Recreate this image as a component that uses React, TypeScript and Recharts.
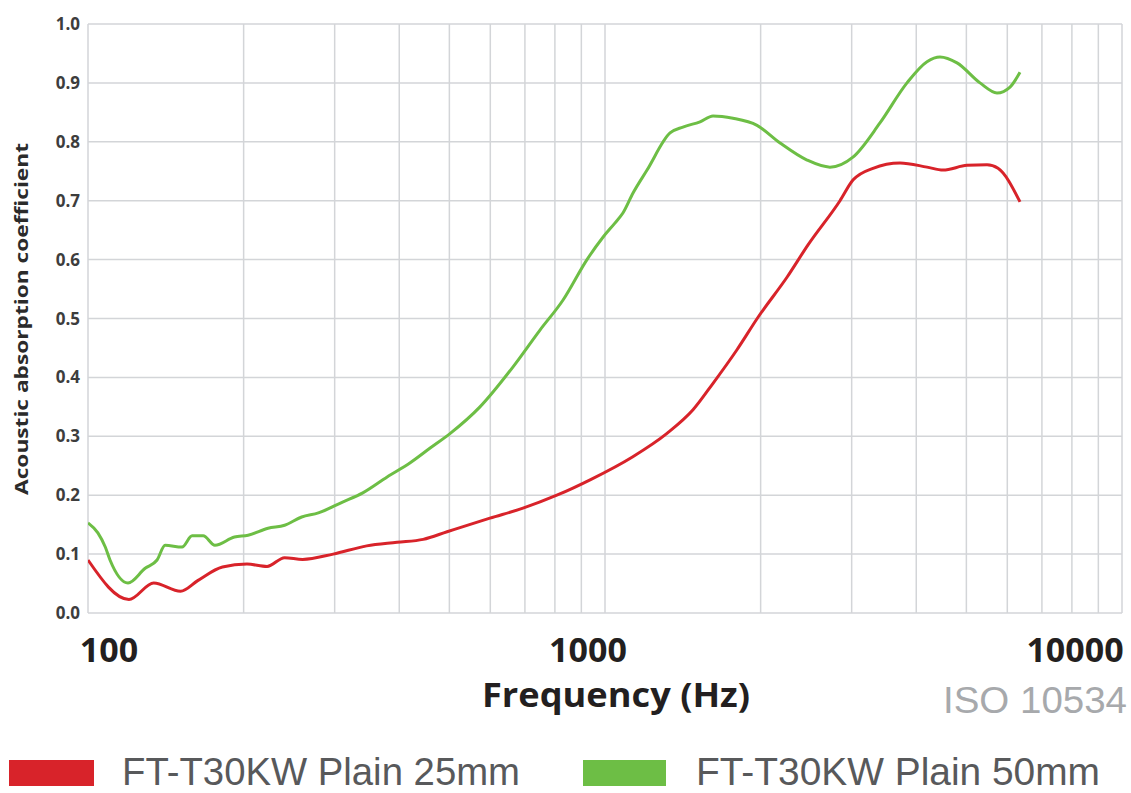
import React from 'react'
import { LineChart, Line, XAxis, YAxis, CartesianGrid } from 'recharts'

// frequency (Hz) / absorption coefficient
const redFreq = [100, 120, 134, 151, 163, 182, 203, 222, 240, 260, 298, 346, 396, 445, 495, 599, 694, 807, 940, 1130, 1318, 1480, 1618, 1800, 1980, 2249, 2470, 2848, 3017, 3299, 3721, 4196, 4507, 5015, 5482, 5757, 6349]
const redAlpha = [0.09, 0.023, 0.051, 0.037, 0.055, 0.078, 0.083, 0.079, 0.094, 0.091, 0.1, 0.114, 0.12, 0.125, 0.138, 0.161, 0.178, 0.2, 0.227, 0.265, 0.305, 0.345, 0.39, 0.447, 0.503, 0.57, 0.625, 0.7, 0.735, 0.755, 0.764, 0.757, 0.752, 0.76, 0.761, 0.755, 0.698]

const greenFreq = [100, 104.5, 108, 110.3, 119.5, 129, 136, 141, 152, 159, 167, 176, 192, 204, 223, 240, 259, 279, 310, 340, 379, 420, 459, 502, 573, 664, 748, 829, 923, 991, 1045, 1083, 1133, 1206, 1336, 1415, 1527, 1618, 1768, 1968, 2181, 2459, 2724, 3017, 3403, 3838, 4196, 4446, 4796, 5313, 5731, 6073, 6349]
const greenAlpha = [0.153, 0.136, 0.112, 0.09, 0.051, 0.076, 0.09, 0.115, 0.112, 0.131, 0.131, 0.115, 0.129, 0.132, 0.144, 0.149, 0.163, 0.17, 0.188, 0.204, 0.231, 0.255, 0.28, 0.305, 0.35, 0.418, 0.48, 0.531, 0.6, 0.638, 0.662, 0.679, 0.713, 0.752, 0.815, 0.825, 0.834, 0.844, 0.84, 0.828, 0.798, 0.769, 0.757, 0.774, 0.832, 0.9, 0.936, 0.944, 0.934, 0.9, 0.883, 0.893, 0.918]

const seriesNames = ['FT-T30KW Plain 25mm', 'FT-T30KW Plain 50mm']
const seriesColors = ['#d8232a', '#6dbe45']

const xTicks = [100, 200, 300, 400, 500, 600, 700, 800, 900, 1000, 2000, 3000, 4000, 5000, 6000, 7000, 8000, 9000, 10000]
const xLabelTicks = [100, 1000, 10000]
const yTicks = [0, 0.1, 0.2, 0.3, 0.4, 0.5, 0.6, 0.7, 0.8, 0.9, 1.0]

const redData = redFreq.map((f, i) => ({ f, a: redAlpha[i] }))
const greenData = greenFreq.map((f, i) => ({ f, a: greenAlpha[i] }))

// the decade labels sit a little off their grid lines in the original
const labelShift: Record<number, number> = { 100: 21, 1000: -17, 10000: -47 }

const XTick = (props: any) => {
  const { x, y, payload } = props
  const v = payload.value
  if (!xLabelTicks.includes(v)) return <g />
  return (
    <text
      x={x + labelShift[v]}
      y={y + 49}
      textAnchor="middle"
      fontSize={34}
      fontWeight={700}
      fontFamily="'Open Sans', sans-serif"
      fill="#231f20"
    >
      {v}
    </text>
  )
}

export default function App() {
  return (
    <div style={{ position: 'absolute', left: 0, top: 0, width: 1131, height: 793, background: '#fff' }}>
      <LineChart
        width={1131}
        height={793}
        margin={{ top: 24, right: 9, left: 8, bottom: 120 }}
      >
        <CartesianGrid stroke="#d3d5d8" strokeWidth={1.5} ticks={xTicks} />
        <XAxis
          dataKey="f"
          type="number"
          scale="log"
          domain={[100, 10000]}
          ticks={xTicks}
          allowDataOverflow
          axisLine={false}
          tickLine={false}
          tickSize={0}
          tickMargin={0}
          height={60}
          tick={<XTick />}
          interval={0}
        />
        <YAxis
          type="number"
          domain={[0, 1]}
          ticks={yTicks}
          width={80}
          axisLine={false}
          tickLine={false}
          tickSize={0}
          tickMargin={8}
          interval={0}
          tickFormatter={(v: number) => v.toFixed(1)}
          tick={{ fontSize: 17, fontWeight: 700, fill: '#3d3d3d', fontFamily: "'Open Sans', sans-serif" }}
        />
        <Line
          data={redData}
          dataKey="a"
          type="monotone"
          stroke={seriesColors[0]}
          strokeWidth={3}
          dot={false}
          isAnimationActive={false}
          name={seriesNames[0]}
        />
        <Line
          data={greenData}
          dataKey="a"
          type="monotone"
          stroke={seriesColors[1]}
          strokeWidth={3}
          dot={false}
          isAnimationActive={false}
          name={seriesNames[1]}
        />
      </LineChart>
      <svg
        width={1131}
        height={793}
        style={{ position: 'absolute', left: 0, top: 0, pointerEvents: 'none' }}
      >
        <text
          transform="translate(28,319) rotate(-90)"
          textAnchor="middle"
          fontSize={18}
          fontWeight={700}
          fontFamily="'Open Sans', sans-serif"
          fill="#2b2b2b"
          textLength={352}
          lengthAdjust="spacingAndGlyphs"
        >
          Acoustic absorption coefficient
        </text>
        <text
          x={616}
          y={707}
          textAnchor="middle"
          fontSize={34}
          fontWeight={700}
          fontFamily="'Open Sans', sans-serif"
          fill="#231f20"
          textLength={268}
          lengthAdjust="spacingAndGlyphs"
        >
          Frequency (Hz)
        </text>
        <text
          x={1127}
          y={713}
          textAnchor="end"
          fontSize={37}
          fontFamily="'Liberation Sans', sans-serif"
          fill="#a7a9ac"
          textLength={184}
          lengthAdjust="spacingAndGlyphs"
        >
          ISO 10534
        </text>
        <rect x={9} y={760} width={85} height={26} fill={seriesColors[0]} />
        <text
          x={122}
          y={785}
          fontSize={38}
          fontFamily="'Liberation Sans', sans-serif"
          fill="#58595b"
          textLength={398}
          lengthAdjust="spacingAndGlyphs"
        >
          {seriesNames[0]}
        </text>
        <rect x={583} y={760} width={83} height={26} fill={seriesColors[1]} />
        <text
          x={696}
          y={785}
          fontSize={38}
          fontFamily="'Liberation Sans', sans-serif"
          fill="#58595b"
          textLength={404}
          lengthAdjust="spacingAndGlyphs"
        >
          {seriesNames[1]}
        </text>
      </svg>
    </div>
  )
}
